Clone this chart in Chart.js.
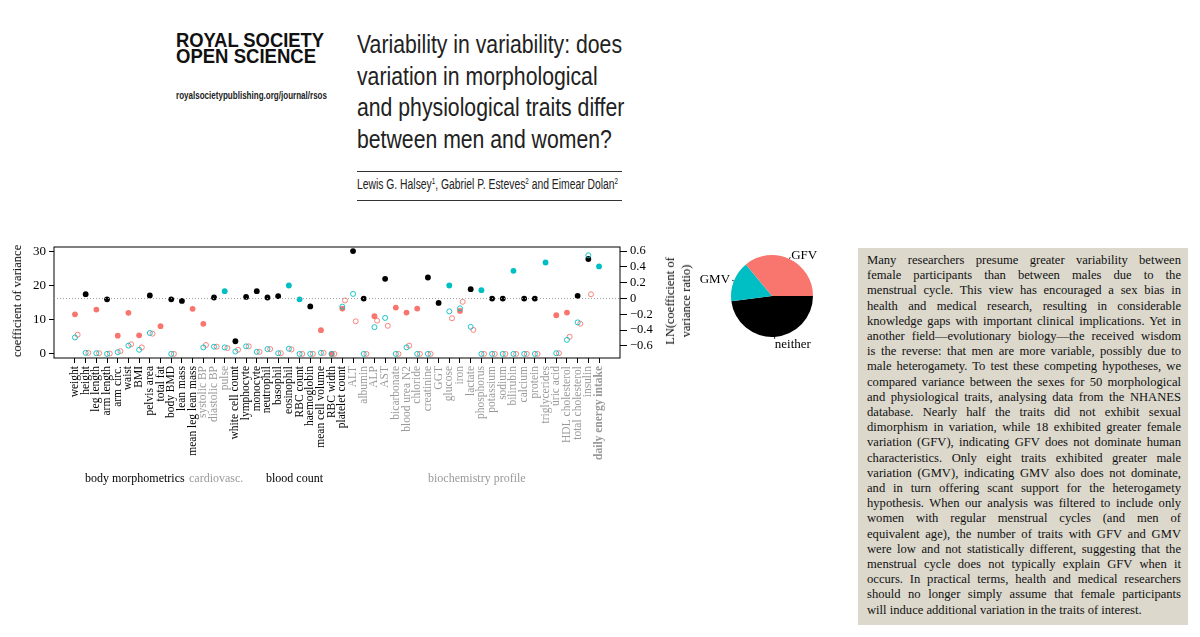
<!DOCTYPE html>
<html>
<head>
<meta charset="utf-8">
<script src="https://cdn.jsdelivr.net/npm/chart.js@4.4.0/dist/chart.umd.min.js"></script>
<style>
  html, body { margin: 0; padding: 0; background: #fff; }
  body { width: 1200px; height: 637px; position: relative; overflow: hidden; font-family: "Liberation Serif", serif; }
  .abs { position: absolute; white-space: nowrap; }
  .fit { display: inline-block; transform-origin: 0 50%; }
  .logo { font-family: "Liberation Sans", Arial, sans-serif; font-weight: bold; font-size: 19.5px; line-height: 16px; color: #111; left: 176px; }
  .url { font-family: "Liberation Sans Narrow", "Liberation Sans", sans-serif; font-weight: bold; font-size: 10.5px; color: #222; left: 176px; top: 89px; }
  .title { font-family: "Liberation Sans Narrow", "Liberation Sans", sans-serif; font-size: 25.5px; line-height: 31.7px; color: #222; left: 357px; top: 29px; }
  .rule { position: absolute; left: 357px; width: 265px; height: 1.3px; background: #333; }
  .authors { font-family: "Liberation Sans Narrow", "Liberation Sans", sans-serif; font-size: 14px; color: #222; left: 357px; top: 176px; }
  .authors sup { font-size: 8.5px; vertical-align: 5px; line-height: 0; }
  .group { font-size: 12px; top: 471px; }
  .ytitle { font-size: 12.5px; transform: translate(-50%, -50%) rotate(-90deg); text-align: center; line-height: 16px; }
  #abstract { position: absolute; left: 858px; top: 248px; width: 330px; height: 377px; background: #dcd8cc; }
  #abstract div { position: absolute; left: 9px; width: 314px; font-size: 12.6px; line-height: 15.2px; color: #111;
    white-space: nowrap; text-align: justify; text-align-last: justify; }
  #scatter { position: absolute; left: 0; top: 236px; }
  #pie { position: absolute; left: 690px; top: 230px; }
</style>
</head>
<body>

<div class="abs logo" style="top:32px"><span class="fit" data-w="148">ROYAL SOCIETY</span></div>
<div class="abs logo" style="top:48px"><span class="fit" data-w="140">OPEN SCIENCE</span></div>
<div class="abs url"><span class="fit" data-w="151">royalsocietypublishing.org/journal/rsos</span></div>

<div class="abs title" id="title">
  <span class="fit tl">Variability in variability: does</span><br>
  <span class="fit tl">variation in morphological</span><br>
  <span class="fit tl">and physiological traits differ</span><br>
  <span class="fit tl">between men and women?</span>
</div>
<div class="rule" style="top:171px"></div>
<div class="abs authors"><span class="fit" data-w="261">Lewis G. Halsey<sup>1</sup>, Gabriel P. Esteves<sup>2</sup> and Eimear Dolan<sup>2</sup></span></div>
<div class="rule" style="top:199.5px"></div>

<canvas id="scatter" width="690" height="236"></canvas>
<canvas id="pie" width="164" height="132"></canvas>

<div class="abs ytitle" style="left:17px; top:301px">coefficient of variance</div>
<div class="abs ytitle" style="left:678px; top:301px">LN(coefficient of<br>variance ratio)</div>

<div id="groups"></div>
<div id="abstract"></div>

<script>
// Traits, in plot order
const traits = [
  'weight', 'height', 'leg length', 'arm length', 'arm circ.', 'waist', 'BMI', 'pelvis area',
  'total fat', 'body BMD', 'lean mass', 'mean leg lean mass',
  'systolic BP', 'diastolic BP', 'pulse',
  'white cell count', 'lymphocyte', 'monocyte', 'neutrophil', 'basophil', 'eosinophil',
  'RBC count', 'haemoglobin', 'mean cell volume', 'RBC width', 'platelet count',
  'ALT', 'albumin', 'ALP', 'AST', 'bicarbonate', 'blood urea N2', 'chloride', 'creatinine',
  'GGT', 'glucose', 'iron', 'lactate', 'phosphorus', 'potassium', 'sodium', 'bilirubin',
  'calcium', 'protein', 'triglycerides', 'uric acid', 'HDL cholesterol', 'total cholesterol',
  'insulin', 'daily energy intake'
];

// Trait groups (sizes follow the trait order above)
const groupNames = ['body morphometrics', 'cardiovasc.', 'blood count', 'biochemistry profile'];
const groupSizes = [12, 3, 11, 24];
const groupColors = ['#000000', '#9a9a9a', '#000000', '#9a9a9a'];
const groupLabelX = [85, 189, 266, 428];

// LN(coefficient of variance ratio) per trait, right axis
const lnRatio = [
  -0.20, 0.055, -0.14, -0.01, -0.47, -0.18, -0.465, 0.04, -0.35, -0.01, -0.03, -0.13,
  -0.32, 0.013, 0.093,
  -0.54, 0.02, 0.093, 0.013, 0.03, 0.165, -0.01, -0.10, -0.40, -0.70, -0.127,
  0.60, 0.0, -0.224, 0.25, -0.114, -0.177, -0.127, 0.266, -0.055, 0.165, -0.156, 0.118,
  0.106, 0.0, 0.0, 0.351, 0.0, 0.0, 0.456, -0.211, -0.177, 0.034, 0.50, 0.406
];

// Outcome per trait: greater female / greater male variation, or neither
const status = [
  'GFV', 'neither', 'GFV', 'neither', 'GFV', 'GFV', 'GFV', 'neither', 'GFV', 'neither', 'neither', 'GFV',
  'GFV', 'neither', 'GMV',
  'neither', 'neither', 'neither', 'neither', 'neither', 'GMV', 'GMV', 'neither', 'GFV', 'GFV', 'GFV',
  'neither', 'neither', 'GFV', 'neither', 'GFV', 'GFV', 'GFV', 'neither', 'neither', 'GMV', 'GFV', 'neither',
  'GMV', 'neither', 'neither', 'GMV', 'neither', 'neither', 'GMV', 'GFV', 'GFV', 'neither', 'neither', 'GMV'
];

// Coefficient of variance for men and women, left axis (null = off the plot)
const cvMale = [
  4.8, 0.3, 0.2, 0.0, 0.5, 2.4, 1.2, 6.1, null, 0.0, null, null,
  1.9, 2.1, 1.9,
  0.7, 2.2, 0.6, 1.4, 0.2, 1.5, 0.0, 0.0, 0.3, 0.0, 13.8,
  17.5, 0.0, 7.8, 10.5, 0.0, 1.9, 0.0, 0.0, null, 12.4, 13.3, 7.9,
  0.0, 0.0, 0.0, 0.0, 0.0, 0.0, null, 0.2, 4.1, 9.2, 28.8, null
];
const cvFemale = [
  5.6, 0.3, 0.2, 0.1, 0.8, 2.8, 1.9, 5.9, null, 0.0, null, null,
  2.6, 2.1, 1.7,
  1.2, 2.2, 0.6, 1.4, 0.2, 1.3, 0.0, 0.0, 0.3, 0.0, 15.6,
  9.5, 0.0, 9.7, 8.2, 0.0, 2.4, 0.0, 0.0, null, 10.4, 15.2, 7.0,
  0.0, 0.0, 0.0, 0.0, 0.0, 0.0, null, 0.2, 5.0, 8.8, 17.4, null
];

const cvTicks = [0, 5, 10, 15, 20, 25, 30];
const ratioTicks = [-0.6, -0.4, -0.2, 0, 0.2, 0.4, 0.6];

// Pie of outcomes
const pieLabels = ['neither', 'GMV', 'GFV'];
const pieCounts = [24, 8, 18];

const statusColors = { GFV: '#F8766D', GMV: '#00BFC4', neither: '#000000' };

const abstractLines = [
  'Many researchers presume greater variability between',
  'female participants than between males due to the',
  'menstrual cycle. This view has encouraged a sex bias in',
  'health and medical research, resulting in considerable',
  'knowledge gaps with important clinical implications. Yet in',
  'another field\u2014evolutionary biology\u2014the received wisdom',
  'is the reverse: that men are more variable, possibly due to',
  'male heterogamety. To test these competing hypotheses, we',
  'compared variance between the sexes for 50 morphological',
  'and physiological traits, analysing data from the NHANES',
  'database. Nearly half the traits did not exhibit sexual',
  'dimorphism in variation, while 18 exhibited greater female',
  'variation (GFV), indicating GFV does not dominate human',
  'characteristics. Only eight traits exhibited greater male',
  'variation (GMV), indicating GMV also does not dominate,',
  'and in turn offering scant support for the heterogamety',
  'hypothesis. When our analysis was filtered to include only',
  'women with regular menstrual cycles (and men of',
  'equivalent age), the number of traits with GFV and GMV',
  'were low and not statistically different, suggesting that the',
  'menstrual cycle does not typically explain GFV when it',
  'occurs. In practical terms, health and medical researchers',
  'should no longer simply assume that female participants',
  'will induce additional variation in the traits of interest.'
];

// ---- text blocks ----
const abstractBox = document.getElementById('abstract');
abstractLines.forEach((line, i) => {
  const d = document.createElement('div');
  d.textContent = line;
  d.style.top = (5 + i * 15.2) + 'px';
  if (i === abstractLines.length - 1) d.style.textAlignLast = 'left';
  abstractBox.appendChild(d);
});

const groupBox = document.getElementById('groups');
groupNames.forEach((name, g) => {
  const d = document.createElement('div');
  d.className = 'abs group';
  d.style.left = groupLabelX[g] + 'px';
  d.style.color = groupColors[g];
  d.textContent = name;
  groupBox.appendChild(d);
});

// squeeze header text to the widths of the original
document.querySelectorAll('[data-w]').forEach(el => {
  const w = el.getBoundingClientRect().width;
  el.style.transform = `scaleX(${el.dataset.w / w})`;
});
const titleLines = document.querySelectorAll('.tl');
const titleScale = 265 / titleLines[0].getBoundingClientRect().width;
titleLines.forEach(el => { el.style.transform = `scaleX(${titleScale})`; });

// ---- scatter chart ----
Chart.defaults.font.family = '"Liberation Serif", serif';
Chart.defaults.color = '#000';

const traitColor = [];
groupSizes.forEach((n, g) => { for (let k = 0; k < n; k++) traitColor.push(groupColors[g]); });

const xPad = (traits.length - 1) * 0.04;
const cvMin = -1.2, cvMax = 31.2;
// right axis lines up with the left: 0.6 sits on 30, 0 sits on ~16.2
const ratioAt = cv => -0.7 + cv * (1.3 / 30);

const frame = {
  id: 'frame',
  beforeDatasetsDraw(chart) {
    const a = chart.chartArea, ctx = chart.ctx;
    ctx.save();
    ctx.strokeStyle = '#000';
    ctx.lineWidth = 1;
    ctx.strokeRect(a.left, a.top, a.right - a.left, a.bottom - a.top);
    ctx.restore();
  }
};

const toPoints = (arr, shift) => arr
  .map((v, i) => (v === null ? null : { x: i + shift, y: v }))
  .filter(p => p !== null);

new Chart(document.getElementById('scatter'), {
  type: 'scatter',
  data: {
    datasets: [
      {
        type: 'line',
        data: [{ x: -xPad, y: 0 }, { x: traits.length - 1 + xPad, y: 0 }],
        yAxisID: 'y2',
        borderColor: '#a0a0a0',
        borderWidth: 1,
        borderDash: [1, 2],
        pointRadius: 0
      },
      {
        data: toPoints(cvMale, 0),
        yAxisID: 'y',
        pointRadius: 2.5,
        borderWidth: 0.9,
        borderColor: '#00BFC4',
        backgroundColor: 'rgba(0,0,0,0)'
      },
      {
        data: toPoints(cvFemale, 0.25),
        yAxisID: 'y',
        pointRadius: 2.5,
        borderWidth: 0.9,
        borderColor: '#F8766D',
        backgroundColor: 'rgba(0,0,0,0)'
      },
      {
        data: lnRatio.map((v, i) => ({ x: i, y: v })),
        yAxisID: 'y2',
        pointRadius: 2.9,
        borderWidth: 0,
        backgroundColor: status.map(s => statusColors[s])
      }
    ]
  },
  options: {
    responsive: false,
    animation: false,
    events: [],
    layout: { padding: { top: 11, left: 0, right: 0, bottom: 0 } },
    plugins: { legend: { display: false }, tooltip: { enabled: false } },
    scales: {
      x: {
        type: 'linear',
        min: -xPad,
        max: traits.length - 1 + xPad,
        afterBuildTicks: scale => { scale.ticks = traits.map((_, i) => ({ value: i })); },
        afterFit: scale => { scale.height = 114; },
        border: { display: false },
        grid: { drawOnChartArea: false, tickLength: 5, color: '#000', lineWidth: 1 },
        ticks: {
          autoSkip: false,
          minRotation: 90,
          maxRotation: 90,
          padding: 3,
          callback: v => traits[v],
          color: ctx => traitColor[ctx.index],
          font: ctx => ({
            size: 11.5,
            weight: traits[ctx.index] === 'daily energy intake' ? 'bold' : 'normal'
          })
        }
      },
      y: {
        position: 'left',
        min: cvMin,
        max: cvMax,
        afterBuildTicks: scale => { scale.ticks = cvTicks.map(v => ({ value: v })); },
        afterFit: scale => { scale.width = 54; },
        border: { display: false },
        grid: { drawOnChartArea: false, tickLength: 5, color: '#000' },
        ticks: { padding: 3, font: { size: 13 } }
      },
      y2: {
        position: 'right',
        min: ratioAt(cvMin),
        max: ratioAt(cvMax),
        afterBuildTicks: scale => { scale.ticks = ratioTicks.map(v => ({ value: v })); },
        afterFit: scale => { scale.width = 70; },
        border: { display: false },
        grid: { drawOnChartArea: false, tickLength: 7, color: '#000' },
        ticks: {
          padding: 3,
          font: { size: 12.5 },
          callback: v => (v === 0 ? '0' : v.toFixed(1).replace('-', '\u2212'))
        }
      }
    }
  },
  plugins: [frame]
});

// ---- pie chart ----
const pieLabelPlugin = {
  id: 'pieLabels',
  afterDatasetsDraw(chart) {
    const ctx = chart.ctx;
    const arcs = chart.getDatasetMeta(0).data;
    ctx.save();
    ctx.font = '13px "Liberation Serif", serif';
    ctx.fillStyle = '#000';
    ctx.strokeStyle = '#000';
    ctx.lineWidth = 0.8;
    ctx.textBaseline = 'middle';
    arcs.forEach((arc, i) => {
      const mid = (arc.startAngle + arc.endAngle) / 2;
      const c = Math.cos(mid), s = Math.sin(mid), r = arc.outerRadius;
      ctx.beginPath();
      ctx.moveTo(arc.x + c * r, arc.y + s * r);
      ctx.lineTo(arc.x + c * r * 1.05, arc.y + s * r * 1.05);
      ctx.stroke();
      ctx.textAlign = c >= 0 ? 'left' : 'right';
      ctx.fillText(pieLabels[i], arc.x + c * r * 1.1, arc.y + s * r * 1.1 + (s > 0.9 ? 4 : 0));
    });
    ctx.restore();
  }
};

new Chart(document.getElementById('pie'), {
  type: 'pie',
  data: {
    labels: pieLabels,
    datasets: [{
      data: pieCounts,
      backgroundColor: pieLabels.map(l => statusColors[l]),
      borderWidth: 0
    }]
  },
  options: {
    responsive: false,
    animation: false,
    events: [],
    rotation: 90,
    layout: { padding: { top: 25, bottom: 25, left: 41, right: 41 } },
    plugins: { legend: { display: false }, tooltip: { enabled: false } }
  },
  plugins: [pieLabelPlugin]
});
</script>
</body>
</html>
